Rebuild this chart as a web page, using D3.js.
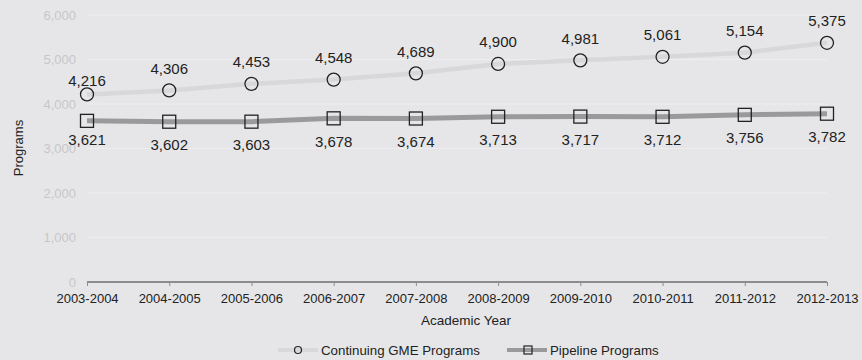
<!DOCTYPE html>
<html>
<head>
<meta charset="utf-8">
<script src="https://cdn.jsdelivr.net/npm/d3@7"></script>
<style>
  html, body { margin: 0; padding: 0; background: #e6e6e8; }
  svg { display: block; font-family: "Liberation Sans", Arial, sans-serif; }
</style>
</head>
<body>
<svg id="chart" width="862" height="360"></svg>
<script>
// Academic years and program counts
const years = ["2003-2004","2004-2005","2005-2006","2006-2007","2007-2008","2008-2009","2009-2010","2010-2011","2011-2012","2012-2013"];
const continuingGME = [4216, 4306, 4453, 4548, 4689, 4900, 4981, 5061, 5154, 5375];
const pipeline = [3621, 3602, 3603, 3678, 3674, 3713, 3717, 3712, 3756, 3782];
const yTicks = [0, 1000, 2000, 3000, 4000, 5000, 6000];
const seriesNames = ["Continuing GME Programs", "Pipeline Programs"];

const svg = d3.select("#chart");
const fmt = d3.format(",");

const x = d3.scalePoint().domain(years).range([87, 827]);
const y = d3.scaleLinear().domain([0, 6000]).range([282, 15]);

// Horizontal gridlines
svg.append("g").selectAll("line").data(yTicks.filter(d => d > 0)).join("line")
  .attr("x1", 87).attr("x2", 827)
  .attr("y1", d => y(d)).attr("y2", d => y(d))
  .attr("stroke", "#eeeef0").attr("stroke-width", 1);

// Y axis labels
svg.append("g").selectAll("text").data(yTicks).join("text")
  .attr("x", 76).attr("y", d => y(d)).attr("dy", "0.35em")
  .attr("text-anchor", "end").attr("font-size", 13).attr("fill", "#c6c6c8")
  .text(d => fmt(d));

// X axis
const xAxis = svg.append("g").attr("transform", "translate(0,282)")
  .call(d3.axisBottom(x).tickSize(4).tickPadding(8).tickSizeOuter(0));
xAxis.select(".domain").attr("stroke", "#8c8c8c").attr("stroke-width", 2)
  .attr("d", "M87,0H827");
xAxis.selectAll(".tick line").attr("stroke", "#8c8c8c").attr("stroke-width", 1);
xAxis.selectAll(".tick text").attr("font-size", 13).attr("fill", "#222")
  .attr("font-family", "Liberation Sans, Arial, sans-serif");

// Axis titles
svg.append("text").attr("x", 466).attr("y", 320).attr("dy", "0.35em").attr("text-anchor", "middle")
  .attr("font-size", 13.5).attr("fill", "#222").text("Academic Year");
svg.append("text").attr("transform", "translate(18,148) rotate(-90)").attr("dy", "0.35em")
  .attr("text-anchor", "middle").attr("font-size", 13).attr("fill", "#222").text("Programs");

const line = d3.line().x((d, i) => x(years[i])).y(d => y(d));

// Continuing GME series (first label sits a little closer to its marker)
svg.append("path").datum(continuingGME).attr("d", line)
  .attr("fill", "none").attr("stroke", "#d8d8da").attr("stroke-width", 4.5);
svg.append("g").selectAll("circle").data(continuingGME).join("circle")
  .attr("cx", (d, i) => x(years[i])).attr("cy", d => y(d)).attr("r", 6.5)
  .attr("fill", "none").attr("stroke", "#222").attr("stroke-width", 1.3);
svg.append("g").selectAll("text").data(continuingGME).join("text")
  .attr("x", (d, i) => x(years[i])).attr("y", (d, i) => y(d) - (i === 0 ? 14 : 22)).attr("dy", "0.35em")
  .attr("text-anchor", "middle").attr("font-size", 15).attr("fill", "#222")
  .text(d => fmt(d));

// Pipeline series
svg.append("path").datum(pipeline).attr("d", line)
  .attr("fill", "none").attr("stroke", "#9a9a9c").attr("stroke-width", 5);
svg.append("g").selectAll("rect").data(pipeline).join("rect")
  .attr("x", (d, i) => x(years[i]) - 6.5).attr("y", d => y(d) - 6.5)
  .attr("width", 13).attr("height", 13)
  .attr("fill", "none").attr("stroke", "#222").attr("stroke-width", 1.3);
svg.append("g").selectAll("text").data(pipeline).join("text")
  .attr("x", (d, i) => x(years[i])).attr("y", (d, i) => y(d) + (i === 0 ? 19 : 23)).attr("dy", "0.35em")
  .attr("text-anchor", "middle").attr("font-size", 15).attr("fill", "#222")
  .text(d => fmt(d));

// Legend
const legend = svg.append("g").attr("transform", "translate(0,350)");
legend.append("line").attr("x1", 278).attr("x2", 318).attr("y1", 0).attr("y2", 0)
  .attr("stroke", "#d8d8da").attr("stroke-width", 4);
legend.append("circle").attr("cx", 298).attr("cy", 0).attr("r", 3.5)
  .attr("fill", "none").attr("stroke", "#222").attr("stroke-width", 1.2);
legend.append("text").attr("x", 321).attr("y", 0).attr("dy", "0.35em")
  .attr("font-size", 13.3).attr("fill", "#222").text(seriesNames[0]);
legend.append("line").attr("x1", 507).attr("x2", 547).attr("y1", 0).attr("y2", 0)
  .attr("stroke", "#9a9a9c").attr("stroke-width", 4);
legend.append("rect").attr("x", 524).attr("y", -4).attr("width", 8).attr("height", 8)
  .attr("fill", "none").attr("stroke", "#222").attr("stroke-width", 1.2);
legend.append("text").attr("x", 550).attr("y", 0).attr("dy", "0.35em")
  .attr("font-size", 13.3).attr("fill", "#222").text(seriesNames[1]);
</script>
</body>
</html>
